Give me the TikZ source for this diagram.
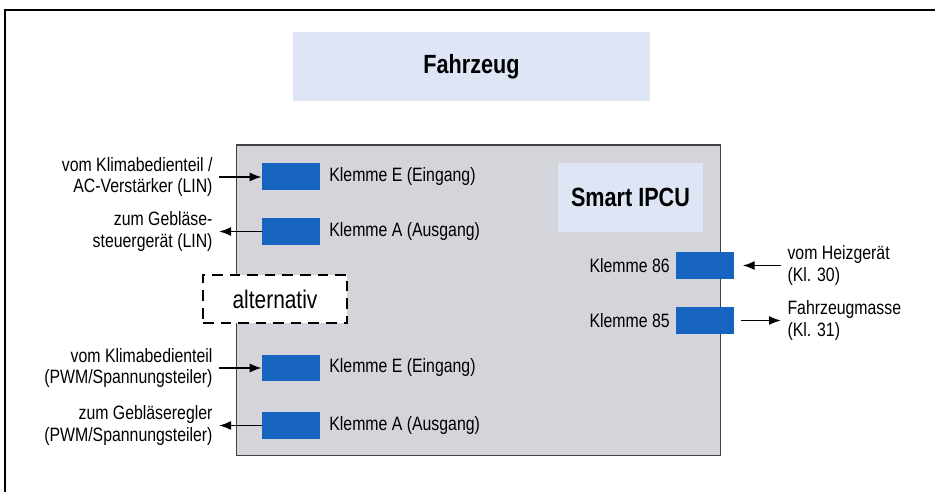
\documentclass[tikz,border=0pt]{standalone}
\usepackage{fontspec}
\setmainfont[FakeStretch = 0.82]{Liberation Sans}
\usetikzlibrary{arrows.meta,positioning}

\definecolor{pinblue}{RGB}{22,100,192}
\definecolor{titelblau}{RGB}{222,230,246}
\definecolor{gehaeuse}{RGB}{212,213,219}

\begin{document}
\begin{tikzpicture}[x = 0.02cm, y = -0.02cm, > = {Latex[length = 2.4mm, width = 1.8mm]}, font = \fontsize{11}{12.5}\selectfont]
    \tikzset{
      klemme/.style = {fill = pinblue, minimum width = 1.16cm, minimum height = 0.54cm, inner sep = 0},
      titel/.style = {fill = titelblau, font = \fontsize{15}{17}\selectfont\bfseries},
      pinname/.style = {inner sep = 0},
      quelle/.style = {align = right, anchor = east, inner xsep = 3.5pt, inner ysep = 0},
      ziel/.style = {align = left, anchor = west, inner xsep = 3.5pt, inner ysep = 0},
      leitung/.style = {->, line width = 1pt},
    }
    \useasboundingbox (0, 0) rectangle (935, 492);

    % Rahmen und Fahrzeug
    \draw [line width = 1.3pt] (5, 492) -- (5, 10) -- (935, 10);
    \node [titel, minimum width = 7.14cm, minimum height = 1.38cm] (fzg) at (471.5, 66.5) {Fahrzeug};

    % Steuergeraet
    \node [draw = black!75, fill = gehaeuse, line width = 0.6pt, minimum width = 9.7cm, minimum height = 6.22cm] (ipcu) at (478.5, 300.5) {};
    \node [titel, minimum width = 2.9cm, minimum height = 1.38cm] (ipcutitel) at (630.5, 197.5) {Smart IPCU};
    \node [draw, dashed, dash pattern = on 6pt off 4pt, fill = white, line width = 0.9pt,
           minimum width = 2.88cm, minimum height = 0.96cm, font = \fontsize{14.5}{16}\selectfont] (alt) at (275, 299) {alternativ};

    % Klemmen links
    \node [klemme] (e1) at (291, 177) {};
    \node [klemme] (a1) at (291, 231.5) {};
    \node [klemme] (e2) at (291, 368) {};
    \node [klemme] (a2) at (291, 425.5) {};
    \node [pinname, anchor = west] at (329, 177) {Klemme E (Eingang)};
    \node [pinname, anchor = west] at (329, 231.5) {Klemme A (Ausgang)};
    \node [pinname, anchor = west] at (329, 368) {Klemme E (Eingang)};
    \node [pinname, anchor = west] at (329, 425.5) {Klemme A (Ausgang)};

    \node [quelle] (lin1) at (219, 177) {vom Klimabedienteil /\\AC-Verstärker (LIN)};
    \node [quelle] (lin2) at (219, 231.5) {zum Gebläse-\\steuergerät (LIN)};
    \node [quelle] (pwm1) at (219, 368) {vom Klimabedienteil\\(PWM/Spannungsteiler)};
    \node [quelle] (pwm2) at (219, 425.5) {zum Gebläseregler\\(PWM/Spannungsteiler)};

    \draw [leitung] (lin1.east) -- (e1.west);
    \draw [leitung] (a1.west) -- (lin2.east);
    \draw [leitung] (pwm1.east) -- (e2.west);
    \draw [leitung] (a2.west) -- (pwm2.east);

    % Klemmen rechts
    \node [klemme] (k86) at (704.5, 265.5) {};
    \node [klemme] (k85) at (704.5, 320.5) {};
    \node [pinname, anchor = east] at (670, 265.5) {Klemme 86};
    \node [pinname, anchor = east] at (670, 320.5) {Klemme 85};

    \node [ziel] (heiz) at (781, 265.5) {vom Heizgerät\\(Kl. 30)};
    \node [ziel] (masse) at (781, 320.5) {Fahrzeugmasse\\(Kl. 31)};

    \draw [leitung, shorten > = 5pt] (heiz.west) -- (k86.east);
    \draw [leitung, shorten < = 4pt] (k85.east) -- (masse.west);
  \end{tikzpicture}
\end{document}
